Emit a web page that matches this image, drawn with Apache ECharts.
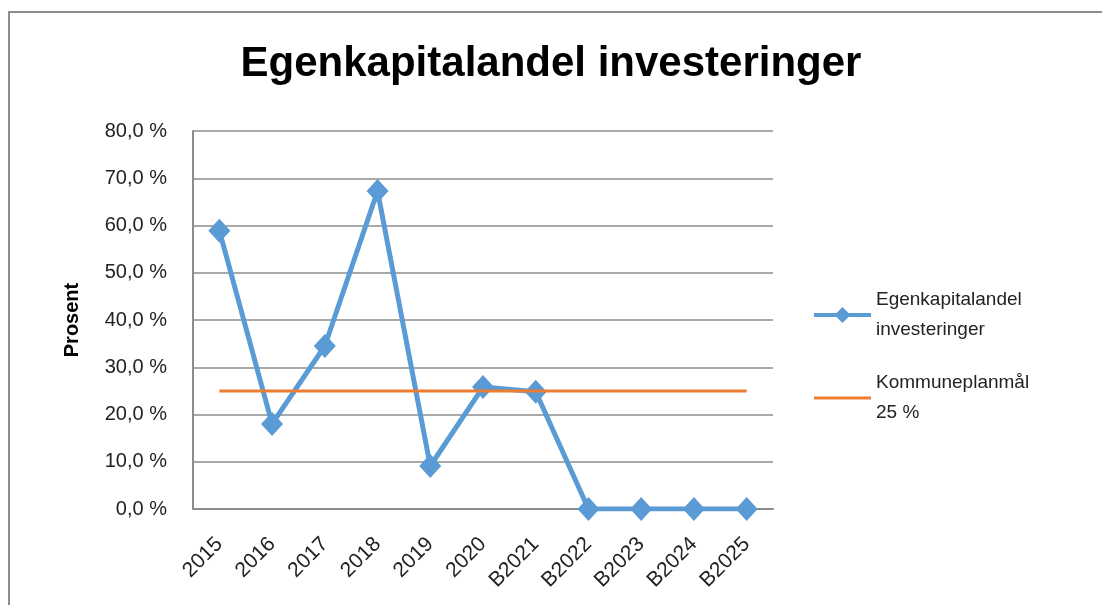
<!DOCTYPE html>
<html><head><meta charset="utf-8">
<script src="https://cdn.jsdelivr.net/npm/echarts@6/dist/echarts.min.js"></script>
<style>html,body{margin:0;padding:0;background:#fff}#c{width:1102px;height:605px}</style>
</head><body><div id="c"></div>
<script>
var categories = ['2015','2016','2017','2018','2019','2020','B2021','B2022','B2023','B2024','B2025'];
var egenkapital = [58.9, 18.0, 34.5, 67.3, 9.1, 25.8, 24.8, 0, 0, 0, 0];
var maal = [25, 25, 25, 25, 25, 25, 25, 25, 25, 25, 25];
var yTicks = {min: 0, max: 80, interval: 10};

var chart = echarts.init(document.getElementById('c'));
var font = 'Liberation Sans';
chart.setOption({
  animation: false,
  backgroundColor: '#fff',
  title: {
    text: 'Egenkapitalandel investeringer',
    left: 'center', top: 38,
    textStyle: {fontFamily: font, fontWeight: 'bold', fontSize: 42, color: '#000'}
  },
  graphic: [{
    type: 'rect', shape: {x: 9, y: 12, width: 1200, height: 700},
    style: {fill: 'none', stroke: '#8c8c8c', lineWidth: 2}, silent: true, z: -1
  }],
  legend: {
    orient: 'vertical', left: 807, top: 280,
    itemWidth: 57, itemHeight: 20, itemGap: 23,
    textStyle: {fontFamily: font, fontSize: 19, color: '#222', lineHeight: 30},
    formatter: function (n) {
      return n === 'Egenkapitalandel investeringer' ? 'Egenkapitalandel\ninvesteringer' : 'Kommuneplanmål\n25 %';
    },
    data: [
      {name: 'Egenkapitalandel investeringer', lineStyle: {width: 4}},
      {name: 'Kommuneplanmål 25 %', itemStyle: {opacity: 0}, lineStyle: {width: 3}}
    ]
  },
  grid: {left: 193, right: 329, top: 131, bottom: 96},
  xAxis: {
    type: 'category', data: categories, boundaryGap: true,
    axisLine: {lineStyle: {color: '#8c8c8c', width: 2}},
    axisTick: {show: false},
    axisLabel: {rotate: 45, fontFamily: font, fontSize: 21, color: '#222', margin: 32, interval: 0}
  },
  yAxis: {
    type: 'value', min: yTicks.min, max: yTicks.max, interval: yTicks.interval,
    name: 'Prosent', nameLocation: 'middle', nameGap: 111,
    nameTextStyle: {fontFamily: font, fontWeight: 'bold', fontSize: 20, color: '#000'},
    axisLine: {show: true, lineStyle: {color: '#8c8c8c', width: 2}},
    axisTick: {show: false},
    splitLine: {lineStyle: {color: '#8c8c8c', width: 1.5}},
    axisLabel: {
      fontFamily: font, fontSize: 20, color: '#222', margin: 26,
      formatter: function (v) { return v.toFixed(1).replace('.', ',') + ' %'; }
    }
  },
  series: [{
    name: 'Egenkapitalandel investeringer', type: 'line', data: egenkapital,
    symbol: 'diamond', symbolSize: [22, 24], showAllSymbol: true,
    lineStyle: {color: '#5b9bd5', width: 5},
    itemStyle: {color: '#5b9bd5'}, z: 2
  }, {
    name: 'Kommuneplanmål 25 %', type: 'line', data: maal,
    symbol: 'none',
    lineStyle: {color: '#ed7d31', width: 3},
    itemStyle: {color: '#ed7d31'}, z: 3
  }]
});
</script></body></html>
